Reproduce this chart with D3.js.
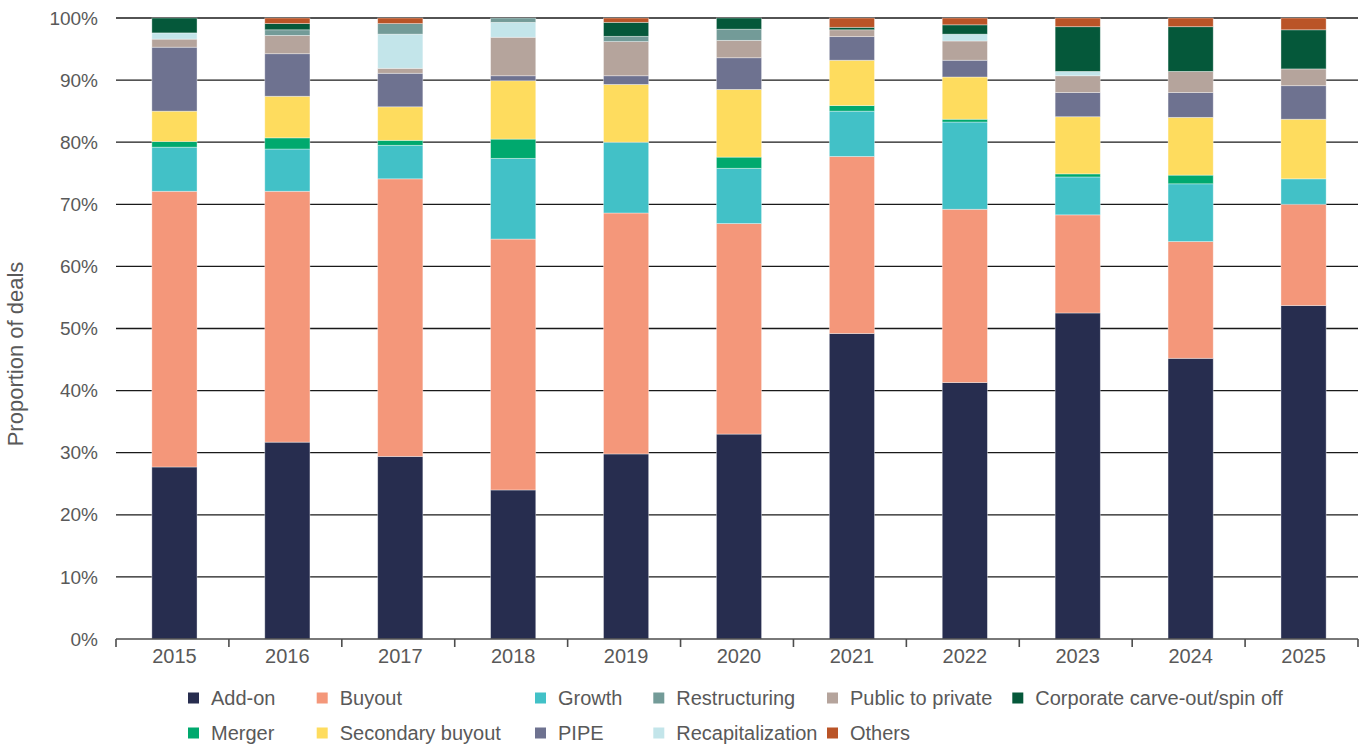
<!DOCTYPE html>
<html>
<head>
<meta charset="utf-8">
<script src="https://cdn.jsdelivr.net/npm/d3@7"></script>
<style>
  html, body { margin: 0; padding: 0; background: #fff; }
  svg { display: block; font-family: "Liberation Sans", Arial, sans-serif; }
</style>
</head>
<body>
<svg id="chart" width="1365" height="745"></svg>
<script>
// ---------- data ----------
const years = ["2015","2016","2017","2018","2019","2020","2021","2022","2023","2024","2025"];
const seriesNames = ["Add-on","Buyout","Growth","Merger","Secondary buyout","PIPE","Public to private","Recapitalization","Restructuring","Corporate carve-out/spin off","Others"];
const seriesColors = ["#272d4f","#f4977a","#42c1c7","#00a96e","#fedc5e","#6e7290","#b5a49c","#c3e5ea","#739b98","#05583a","#ba5427"];

const addOn        = [27.7, 31.7, 29.4, 24.0, 29.8, 33.0, 49.2, 41.3, 52.5, 45.2, 53.7];
const buyout       = [44.4, 40.4, 44.7, 40.4, 38.8, 33.9, 28.5, 27.9, 15.8, 18.8, 16.3];
const growth       = [7.1, 6.8, 5.4, 13.0, 11.4, 8.9, 7.3, 14.05, 6.1, 9.3, 4.1];
const merger       = [0.9, 1.8, 0.8, 3.1, 0.0, 1.8, 0.9, 0.45, 0.5, 1.4, 0.0];
const secondary    = [4.9, 6.7, 5.4, 9.4, 9.3, 10.9, 7.3, 6.8, 9.2, 9.3, 9.6];
const pipe         = [10.3, 6.85, 5.4, 0.8, 1.4, 5.1, 3.8, 2.7, 3.9, 4.0, 5.4];
const publicToPriv = [1.3, 2.95, 0.8, 6.2, 5.5, 2.8, 1.1, 3.1, 2.7, 3.4, 2.7];
const recap        = [1.0, 0.0, 5.5, 2.4, 0.0, 0.0, 0.0, 1.1, 0.7, 0.0, 0.0];
const restructuring= [0.0, 0.9, 1.7, 0.7, 0.85, 1.8, 0.0, 0.0, 0.0, 0.0, 0.0];
const carveOut     = [2.4, 1.0, 0.0, 0.0, 2.25, 1.8, 0.4, 1.5, 7.2, 7.2, 6.3];
const others       = [0.0, 0.9, 0.9, 0.0, 0.7, 0.0, 1.5, 1.1, 1.4, 1.4, 1.9];

const yTicks = [0,10,20,30,40,50,60,70,80,90,100];
const yTitle = "Proportion of deals";

// legend order (row by row) as in the reference
const legendRow1 = ["Add-on","Buyout","Growth","Restructuring","Public to private","Corporate carve-out/spin off"];
const legendRow2 = ["Merger","Secondary buyout","PIPE","Recapitalization","Others"];

// ---------- build table ----------
const seriesValues = [addOn,buyout,growth,merger,secondary,pipe,publicToPriv,recap,restructuring,carveOut,others];
const table = years.map((yr, i) => {
  const row = {year: yr};
  seriesNames.forEach((n, k) => row[n] = seriesValues[k][i]);
  return row;
});
const colorOf = d3.scaleOrdinal().domain(seriesNames).range(seriesColors);

// ---------- layout ----------
const svg = d3.select("#chart");
const m = {left: 116, right: 1358, top: 18, bottom: 639};
const textColor = "#595959";

const x = d3.scaleBand().domain(years).range([m.left, m.right]).paddingInner(0.6).paddingOuter(0.3);
const y = d3.scaleLinear().domain([0, 100]).range([m.bottom, m.top]);

// gridlines
svg.append("g").selectAll("line")
  .data(yTicks.filter(t => t > 0))
  .join("line")
  .attr("x1", m.left).attr("x2", m.right)
  .attr("y1", d => y(d)).attr("y2", d => y(d))
  .attr("stroke", "#1a1a1a").attr("stroke-width", 1.3);

// y labels
svg.append("g").selectAll("text")
  .data(yTicks)
  .join("text")
  .attr("x", 98).attr("y", d => y(d))
  .attr("dy", "0.35em")
  .attr("text-anchor", "end")
  .attr("fill", textColor)
  .style("font-size", "19px")
  .text(d => d + "%");

// stacked bars
const stack = d3.stack().keys(seriesNames);
const layers = stack(table);
svg.append("g").selectAll("g")
  .data(layers)
  .join("g")
  .attr("fill", d => colorOf(d.key))
  .selectAll("rect")
  .data(d => d.filter(s => s[1] - s[0] > 0))
  .join("rect")
  .attr("x", d => x(d.data.year) + 2)
  .attr("width", x.bandwidth())
  .attr("y", d => y(d[1]))
  .attr("height", d => y(d[0]) - y(d[1]))
  .attr("stroke", "rgba(255,255,255,0.45)")
  .attr("stroke-width", 0.8);

// x axis
const xAxisG = svg.append("g");
xAxisG.append("line")
  .attr("x1", m.left).attr("x2", m.right)
  .attr("y1", y(0)).attr("y2", y(0))
  .attr("stroke", "#4d4d4d").attr("stroke-width", 1.6);
const boundaries = years.map((yr, i) => m.left + i * x.step());
boundaries.push(m.right);
xAxisG.selectAll("line.tick")
  .data(boundaries)
  .join("line")
  .attr("class", "tick")
  .attr("x1", d => d).attr("x2", d => d)
  .attr("y1", y(0)).attr("y2", y(0) + 8)
  .attr("stroke", "#4d4d4d").attr("stroke-width", 1.6);
xAxisG.selectAll("text")
  .data(years)
  .join("text")
  .attr("x", d => x(d) + x.bandwidth() / 2 + 2)
  .attr("y", 663)
  .attr("text-anchor", "middle")
  .attr("fill", textColor)
  .style("font-size", "20px")
  .text(d => d);

// y title
svg.append("text")
  .attr("transform", "translate(23,354) rotate(-90)")
  .attr("text-anchor", "middle")
  .attr("fill", textColor)
  .style("font-size", "22px")
  .text(yTitle);

// legend
const legendCols = [188, 316.7, 535, 653.3, 827, 1012.3];
const legendRowsY = [698, 733];
[legendRow1, legendRow2].forEach((row, r) => {
  const g = svg.append("g");
  row.forEach((name, c) => {
    g.append("rect")
      .attr("x", legendCols[c]).attr("y", legendRowsY[r] - 5.5)
      .attr("width", 11).attr("height", 11)
      .attr("fill", colorOf(name));
    g.append("text")
      .attr("x", legendCols[c] + 23).attr("y", legendRowsY[r])
      .attr("dy", "0.35em")
      .attr("fill", textColor)
      .style("font-size", "20px")
      .text(name);
  });
});
</script>
</body>
</html>
